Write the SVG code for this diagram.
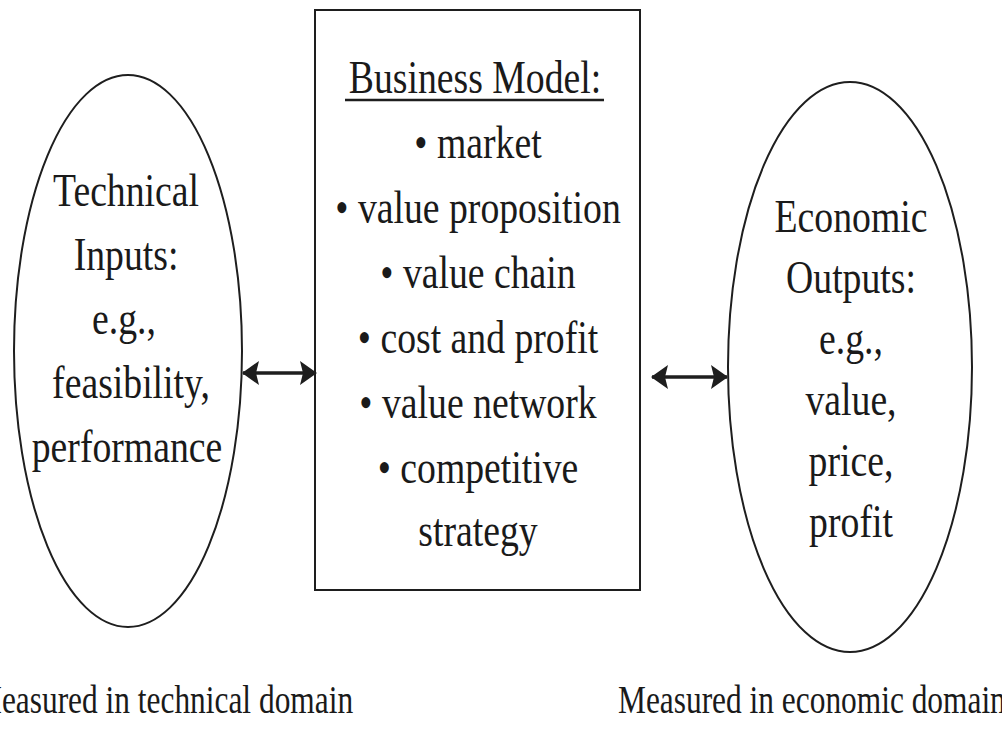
<svg xmlns="http://www.w3.org/2000/svg" width="1002" height="736" viewBox="0 0 1002 736">
  <style>
    .shape { fill: #ffffff; stroke: #1e1e1e; stroke-width: 2; }
    .t { font-family: "Liberation Serif", "Times New Roman", serif; font-size: 46px; fill: #1a1a1a; text-anchor: middle; }
    .b { font-family: "Liberation Serif", "Times New Roman", serif; font-size: 40px; fill: #1a1a1a; text-anchor: start; }
    .conn { stroke: #1e1e1e; stroke-width: 3.5; fill: none; }
  </style>
  <defs>
    <marker id="ah" viewBox="0 0 17 24" refX="16" refY="12" markerWidth="17" markerHeight="24" markerUnits="userSpaceOnUse" orient="auto-start-reverse">
      <path d="M0,0 L17,12 L0,24 L3,12 z" fill="#1e1e1e"/>
    </marker>
  </defs>
  <rect x="0" y="0" width="1002" height="736" fill="#ffffff"/>

  <g id="technical-inputs">
    <ellipse class="shape" cx="128" cy="351" rx="114" ry="276"/>
    <text class="t" transform="translate(126,206) scale(0.82,1)">Technical</text>
    <text class="t" transform="translate(126,270) scale(0.82,1)">Inputs:</text>
    <text class="t" transform="translate(124,334) scale(0.82,1)">e.g.,</text>
    <text class="t" transform="translate(131,398) scale(0.82,1)">feasibility,</text>
    <text class="t" transform="translate(127,462) scale(0.82,1)">performance</text>
  </g>

  <g id="business-model">
    <rect class="shape" x="315" y="10" width="325" height="580"/>
    <text class="t" transform="translate(475,93) scale(0.82,1)">Business Model:</text>
    <line x1="345" y1="100" x2="604" y2="100" stroke="#1e1e1e" stroke-width="2.5"/>
    <text class="t" transform="translate(478,158) scale(0.82,1)">• market</text>
    <text class="t" transform="translate(478,223) scale(0.82,1)">• value proposition</text>
    <text class="t" transform="translate(478,288) scale(0.82,1)">• value chain</text>
    <text class="t" transform="translate(478,353) scale(0.82,1)">• cost and profit</text>
    <text class="t" transform="translate(478,418) scale(0.82,1)">• value network</text>
    <text class="t" transform="translate(478,483) scale(0.82,1)">• competitive</text>
    <text class="t" transform="translate(478,546) scale(0.82,1)">strategy</text>
  </g>

  <g id="economic-outputs">
    <ellipse class="shape" cx="850" cy="367" rx="122" ry="285"/>
    <text class="t" transform="translate(851,232) scale(0.82,1)">Economic</text>
    <text class="t" transform="translate(851,293) scale(0.82,1)">Outputs:</text>
    <text class="t" transform="translate(851,354) scale(0.82,1)">e.g.,</text>
    <text class="t" transform="translate(851,415) scale(0.82,1)">value,</text>
    <text class="t" transform="translate(851,476) scale(0.82,1)">price,</text>
    <text class="t" transform="translate(851,537) scale(0.82,1)">profit</text>
  </g>

  <g id="connectors">
    <line class="conn" x1="243" y1="373" x2="316" y2="373" marker-start="url(#ah)" marker-end="url(#ah)"/>
    <line class="conn" x1="652" y1="377" x2="727" y2="377" marker-start="url(#ah)" marker-end="url(#ah)"/>
  </g>

  <g id="captions">
    <text class="b" transform="translate(-26,713) scale(0.785,1)">Measured in technical domain</text>
    <text class="b" transform="translate(618,713) scale(0.785,1)">Measured in economic domain</text>
  </g>
</svg>
